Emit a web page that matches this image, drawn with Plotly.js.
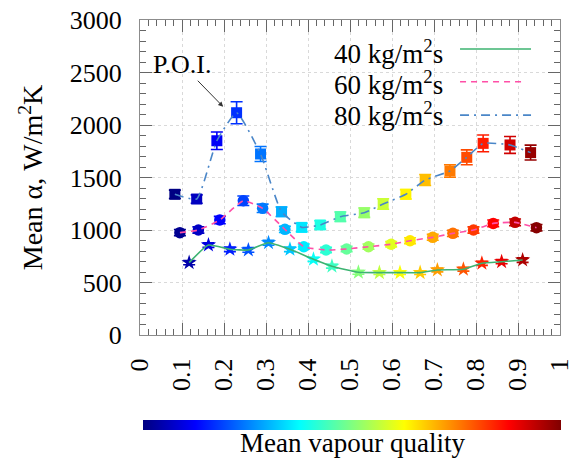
<!DOCTYPE html>
<html>
<head>
<meta charset="utf-8">
<script src="https://cdn.plot.ly/plotly-3.0.1.min.js"></script>
<style>html,body{margin:0;padding:0;background:#fff;}#chart{width:573px;height:464px;}</style>
</head>
<body>
<div id="chart"></div>
<script>
// ---- data ----
const x40 = [0.117,0.163,0.214,0.258,0.306,0.357,0.413,0.457,0.520,0.570,0.619,0.667,0.708,0.770,0.814,0.861,0.911];
const y40 = [689,857,816,810,879,816,721,655,597,594,594,594,619,626,683,698,714];
const e40 = [20,22,22,22,24,22,20,18,18,18,18,18,18,18,20,20,22];

const x60 = [0.095,0.139,0.190,0.246,0.292,0.345,0.390,0.443,0.492,0.544,0.598,0.643,0.697,0.745,0.794,0.841,0.893,0.944];
const y60 = [975,1000,1095,1279,1206,1006,841,810,819,841,864,898,930,968,1000,1063,1073,1022];
const e60 = [30,30,35,45,40,30,25,25,25,25,25,28,28,30,30,32,32,30];

const x80 = [0.083,0.135,0.183,0.230,0.287,0.337,0.385,0.429,0.477,0.534,0.579,0.633,0.679,0.738,0.778,0.817,0.881,0.930];
const y80 = [1340,1295,1850,2117,1724,1174,1025,1048,1127,1165,1248,1340,1476,1562,1692,1825,1810,1737];
const e80 = [40,40,84,105,71,45,40,40,45,45,50,45,52,60,71,80,80,71];

const seriesNames = ['40 kg/m<sup>2</sup>s','60 kg/m<sup>2</sup>s','80 kg/m<sup>2</sup>s'];
const xTickVals = [0,0.1,0.2,0.3,0.4,0.5,0.6,0.7,0.8,0.9,1];
const yTickVals = [0,500,1000,1500,2000,2500,3000];
const cMin = 0.08, cMax = 0.95;

// ---- helpers ----
function clamp(v){return Math.max(0,Math.min(1,v));}
function jet(t){
  const r = clamp(1.5-Math.abs(4*t-3)), g = clamp(1.5-Math.abs(4*t-2)), b = clamp(1.5-Math.abs(4*t-1));
  return 'rgb('+Math.round(r*255)+','+Math.round(g*255)+','+Math.round(b*255)+')';
}
const jetScale = [];
for(let i=0;i<=16;i++){ jetScale.push([i/16, jet(i/16)]); }

const FONT = 'Liberation Serif';
const series = [
  {x:x40,y:y40,e:e40,symbol:'star',size:11.5,line:{color:'#3cb371',width:1.6,dash:'solid'}},
  {x:x60,y:y60,e:e60,symbol:'circle',size:11.5,line:{color:'#ff4fa7',width:1.6,dash:'6px,5px'}},
  {x:x80,y:y80,e:e80,symbol:'square',size:11,line:{color:'#4a86c8',width:1.6,dash:'9px,5px,2px,5px'}}
];

const traces = [];
series.forEach(s=>{
  s.x.forEach((xv,i)=>{
    traces.push({type:'scatter',mode:'markers',x:[xv],y:[s.y[i]],showlegend:false,hoverinfo:'skip',
      marker:{size:1,opacity:0},
      error_y:{type:'data',array:[s.e[i]],visible:true,color:jet((xv-cMin)/(cMax-cMin)),thickness:1.6,width:6}});
  });
});
series.forEach((s,k)=>{
  const tr = {type:'scatter',mode:'markers',x:s.x,y:s.y,showlegend:false,
    marker:{symbol:s.symbol,size:s.size,color:s.x,colorscale:jetScale,cmin:cMin,cmax:cMax,line:{width:0},showscale:false}};
  if(k===2){
    tr.marker.showscale = true;
    tr.marker.colorbar = {orientation:'h',x:0.505,xanchor:'center',y:-0.2844,yanchor:'middle',
      len:418,lenmode:'pixels',thickness:10,outlinewidth:0,tickvals:[],ticks:'',xpad:0,ypad:0,
      tickfont:{family:FONT,size:10,color:'#000'}};
  }
  traces.push(tr);
});
series.forEach((s,k)=>{
  traces.push({type:'scatter',mode:'lines',x:s.x,y:s.y,name:seriesNames[k],showlegend:false,
    line:{color:s.line.color,width:s.line.width,dash:s.line.dash,shape:'spline',smoothing:0.45}});
});

const legY = [0.898,0.800,0.702];
const legLineY = [0.908,0.804,0.698];
const annotations = seriesNames.map((n,k)=>({xref:'paper',yref:'paper',x:0.726,y:legY[k],xanchor:'right',yanchor:'middle',
  text:n,showarrow:false,font:{family:FONT,size:27,color:'#000'}}));
const shapes = series.map((s,k)=>({type:'line',xref:'paper',yref:'paper',x0:0.762,x1:(k===1?0.914:0.931),y0:legLineY[k],y1:legLineY[k],
  line:{color:s.line.color,width:1.6,dash:s.line.dash}}));

annotations.push({x:0.198,y:2174,xref:'x',yref:'y',text:'P.O.I.',showarrow:true,ax:-41,ay:-42,
  arrowhead:2,arrowsize:1,arrowwidth:1,arrowcolor:'#333',standoff:0,font:{family:FONT,size:26,color:'#000'}});
annotations.push({xref:'paper',yref:'paper',x:0.505,y:-0.343,xanchor:'center',yanchor:'middle',showarrow:false,
  text:'Mean vapour quality',font:{family:FONT,size:27,color:'#000'}});

function axisCommon(){ return {showline:true,linecolor:'#8c8c8c',linewidth:1,mirror:'ticks',ticks:'inside',ticklen:12,tickcolor:'#666',tickwidth:1,
  showgrid:true,gridcolor:'#d9d9d9',griddash:'dot',gridwidth:1,zeroline:false,ticklabeloverflow:'allow',
  tickfont:{family:FONT,size:26,color:'#000'},ticklabelstandoff:12}; }

const layout = {
  width:573,height:464,margin:{l:140,r:13,t:20,b:129},paper_bgcolor:'#fff',plot_bgcolor:'#fff',
  showlegend:false,font:{family:FONT,color:'#000'},
  xaxis:Object.assign(axisCommon(),{range:[0,1],tickvals:xTickVals,ticktext:xTickVals.map(v=>String(v)),tickangle:-90,automargin:false,
    minor:{dtick:0.02,tick0:0,ticks:'inside',ticklen:6,tickcolor:'#666',showgrid:false}}),
  yaxis:Object.assign(axisCommon(),{range:[0,3000],tickvals:yTickVals,automargin:false,
    minor:{dtick:100,tick0:0,ticks:'inside',ticklen:6,tickcolor:'#666',showgrid:false},
    title:{text:'Mean α, W/m<sup>2</sup>K',font:{family:FONT,size:28,color:'#000'},standoff:18}}),
  annotations:annotations,shapes:shapes
};

Plotly.newPlot('chart',traces,layout,{staticPlot:true,displayModeBar:false});
</script>
</body>
</html>
